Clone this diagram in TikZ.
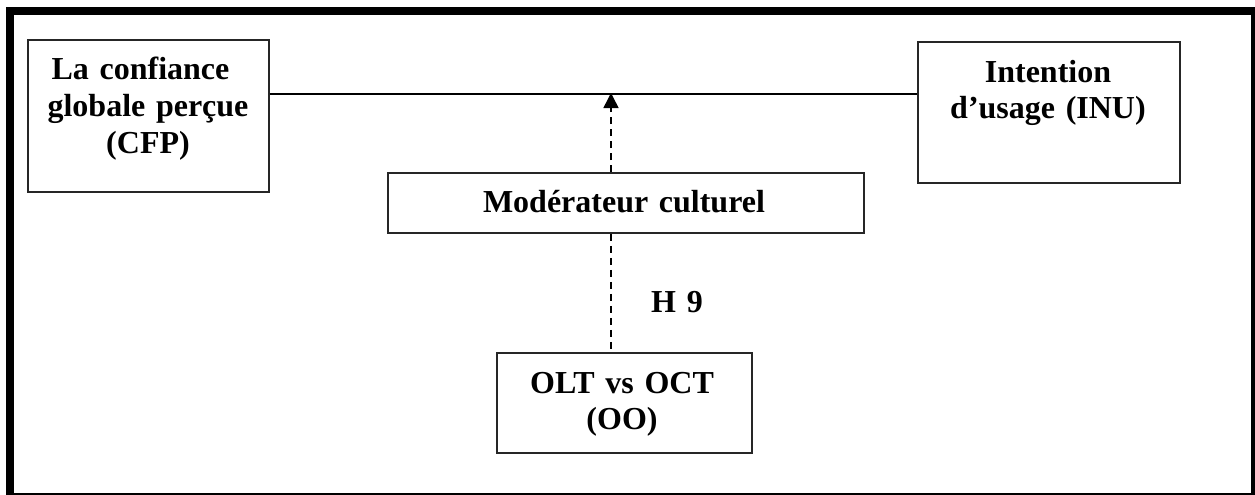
\documentclass[tikz,border=0pt]{standalone}
\usepackage{fontspec}
\setmainfont{Liberation Serif}
\usetikzlibrary{arrows.meta}
\begin{document}
\begin{tikzpicture}[x=1pt,y=-1pt,
  boxshape/.style={draw=black!85,line width=1.8pt,rectangle,inner sep=0pt,anchor=north west},
  lbl/.style={font=\fontsize{32}{36.8}\selectfont\bfseries,align=center,text width=#1,anchor=base,inner sep=0pt},
  lbl/.default=300pt,
  dashline/.style={line width=1.5pt,dash pattern=on 7pt off 5pt},
  conn/.style={line width=1.8pt}]
\useasboundingbox (0,0) rectangle (1255,495);
% frame
\fill[black] (6,7) rectangle (14,495);
\fill[black] (6,7) rectangle (1255,15);
\fill[black] (1251,7) rectangle (1255,495);
\fill[black] (6,492.5) rectangle (1255,495);
% boxes
\node[boxshape,minimum width=241pt,minimum height=152pt] (cfp) at (27,39) {};
\node[boxshape,minimum width=262pt,minimum height=141pt] (inu) at (917,41) {};
\node[boxshape,minimum width=476pt,minimum height=60pt] (mod) at (387,172) {};
\node[boxshape,minimum width=255pt,minimum height=100pt] (oo) at (496,352) {};
% texts
\node[lbl=240pt] (tcfp) at (148,80) {La confiance\rule{15pt}{0pt}\\globale perçue\\(CFP)};
\node[lbl=260pt] (tinu) at (1048,82) {Intention\\d’usage (INU)};
\node[lbl=470pt] (tmod) at (624,212) {Modérateur culturel};
\node[lbl=250pt] (too) at (622,393) {OLT vs OCT\\(OO)};
\node[lbl=100pt] (th9) at (677,312) {H 9};
% connectors
\coordinate (mid) at (611,93);
\draw[conn] (cfp.east |- 0,94) -- (inu.west |- 0,94);
\draw[dashline,-{Triangle[length=15pt,width=15pt]}] (mod.north -| mid) -- (mid);
\draw[dashline] (mod.south -| mid) -- (oo.north -| mid);
\end{tikzpicture}
\end{document}
